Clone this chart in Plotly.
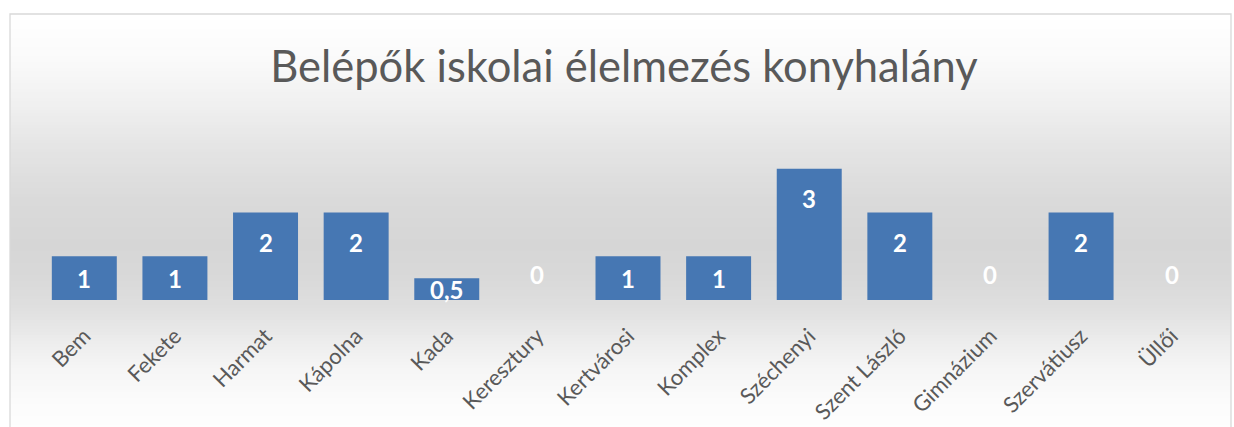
import plotly.graph_objects as go

# ---- data ----
categories = ["Bem", "Fekete", "Harmat", "Kápolna", "Kada", "Keresztury", "Kertvárosi",
              "Komplex", "Széchenyi", "Szent László", "Gimnázium", "Szervátiusz", "Üllői"]
values = [1, 1, 2, 2, 0.5, 0, 1, 1, 3, 2, 0, 2, 0]
title_text = "Belépők iskolai élelmezés konyhalány"
y_range = [0, 4]

# ---- geometry / style ----
W, H = 1234, 427
FONT = "Lato, Carlito, Calibri, sans-serif"
plot_left, plot_right = 39, 1217      # px
plot_top, plot_bottom = 125, 300      # px
frame_left, frame_right, frame_top = 10, 1231, 14

def px_x(p):
    return p / W

def px_y(p):
    return 1 - p / H

fig = go.Figure()
fig.add_trace(go.Bar(
    x=categories, y=values,
    marker=dict(color="#4677b3", line=dict(width=0)),
    hoverinfo="x+y",
))

# background gradient (vertical) inside the chart frame
stops = [(14, 255), (60, 250), (100, 241), (150, 228), (200, 218), (245, 214),
         (280, 217), (310, 224), (340, 236), (370, 246), (400, 251), (430, 254)]

def gray_at(yp):
    for (a, ga), (b, gb) in zip(stops[:-1], stops[1:]):
        if a <= yp <= b:
            t = (yp - a) / (b - a)
            return ga + (gb - ga) * t
    return 255

shapes = []
step = 3
yp = frame_top
while yp < H:
    g = int(round(gray_at(yp + step / 2)))
    shapes.append(dict(type="rect", xref="paper", yref="paper",
                       x0=px_x(frame_left), x1=px_x(frame_right),
                       y0=px_y(yp + step + 0.5), y1=px_y(yp),
                       fillcolor=f"rgb({g},{g},{g})", line=dict(width=0),
                       layer="below"))
    yp += step
shapes.append(dict(type="rect", xref="paper", yref="paper",
                   x0=px_x(frame_left), x1=px_x(frame_right),
                   y0=-0.05, y1=px_y(frame_top),
                   fillcolor="rgba(0,0,0,0)", line=dict(color="#d9d9d9", width=1.3),
                   layer="below"))

# data labels
ppu = (plot_bottom - plot_top) / (y_range[1] - y_range[0])
annotations = []
for c, v in zip(categories, values):
    h = v * ppu
    if v > 0:
        shift = -min(30, h / 2)
    else:
        shift = 26
    txt = (f"{v:g}").replace(".", ",")
    annotations.append(dict(x=c, y=v, xref="x", yref="y", text=f"<b>{txt}</b>",
                            showarrow=False, yanchor="middle", yshift=shift,
                            font=dict(family=FONT, size=24, color="white")))

fig.update_layout(
    width=W, height=H, autosize=False,
    margin=dict(l=0, r=0, t=0, b=0),
    paper_bgcolor="white", plot_bgcolor="rgba(0,0,0,0)",
    font=dict(family=FONT, color="#595959"),
    title=dict(text=title_text, x=624 / W, xanchor="center", y=px_y(67), yanchor="middle",
               font=dict(family=FONT, size=43.5, color="#595959")),
    bargap=0.283,
    showlegend=False,
    shapes=shapes,
    annotations=annotations,
    xaxis=dict(domain=[px_x(plot_left), px_x(plot_right)], anchor="y",
               tickangle=-45, showgrid=False, showline=False, ticks="",
               ticklabelstandoff=18,
               tickfont=dict(family=FONT, size=22, color="#595959")),
    yaxis=dict(domain=[px_y(plot_bottom), px_y(plot_top)], range=y_range,
               visible=False, showgrid=False),
)

fig.write_html("out.html", config={"displayModeBar": False},
               post_script="document.body.style.margin='0';document.body.style.overflow='hidden';")
